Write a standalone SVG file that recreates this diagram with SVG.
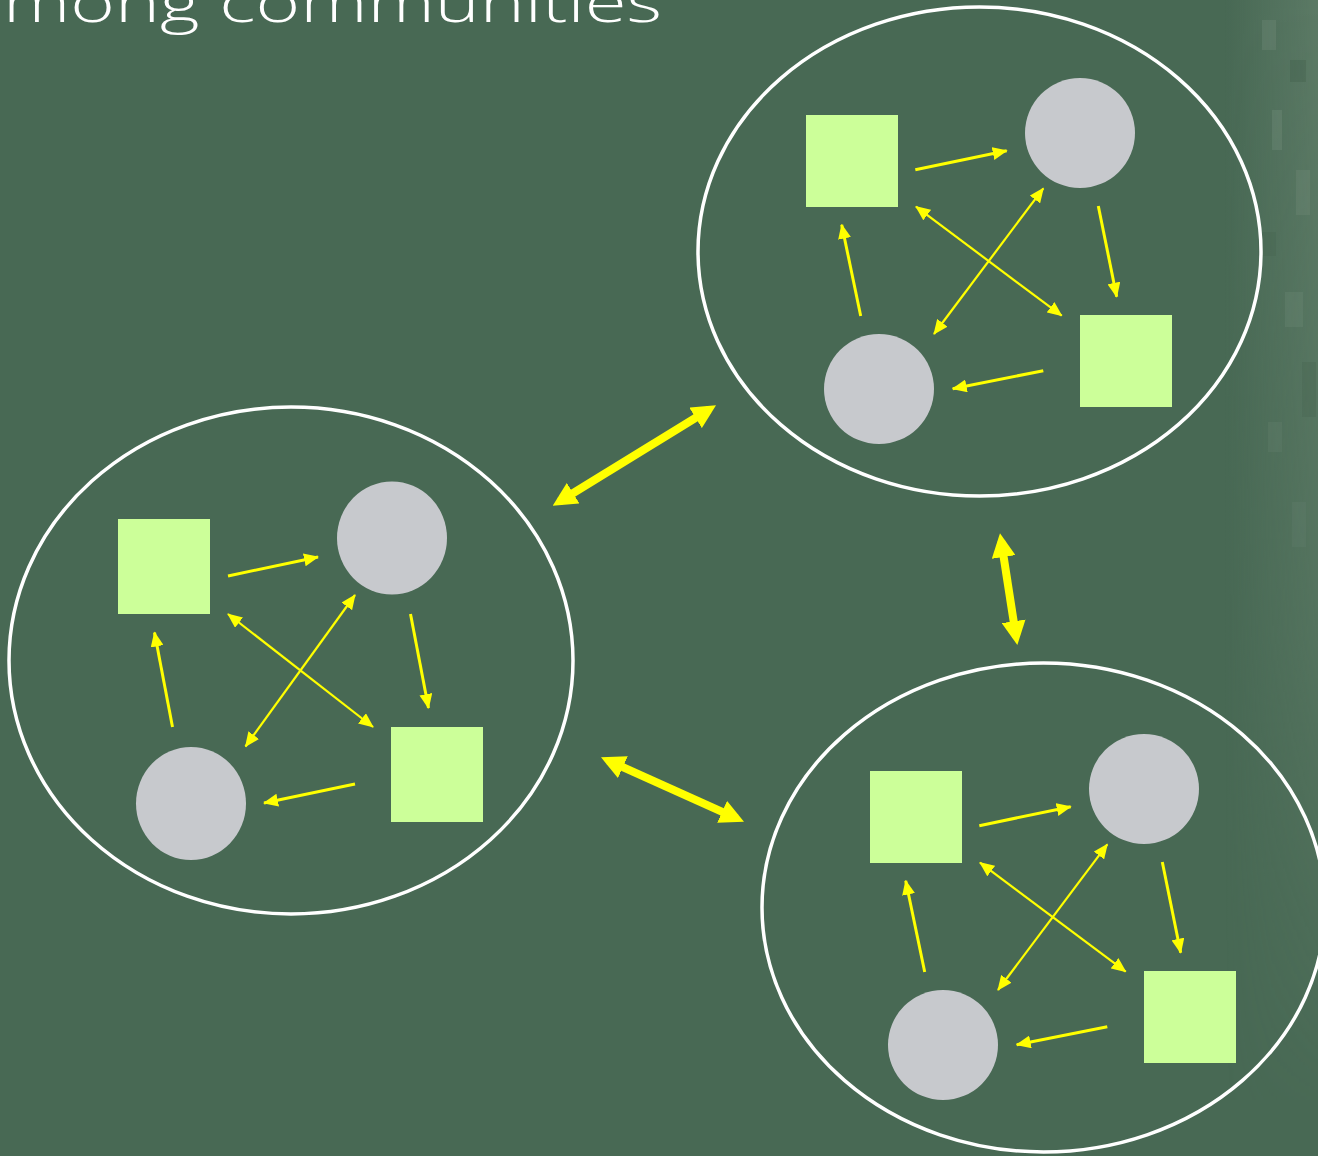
<svg xmlns="http://www.w3.org/2000/svg" width="1318" height="1156" viewBox="0 0 1318 1156">
<defs>
<style>
.bg{fill:#486954}
.comm{fill:none;stroke:#ffffff;stroke-width:3.5}
.sq{fill:#ccff99}
.ci{fill:#c7c9cd}
.a{stroke:#ffff00;stroke-width:3;fill:none}
.d{stroke:#ffff00;stroke-width:2.2;fill:none}
.big{stroke:#ffff00;stroke-width:8;fill:none}
.title{font-family:"Open Sans","Lato","Liberation Sans",sans-serif;font-weight:300;font-size:56px;fill:#ffffff}
</style>
<marker id="h" viewBox="0 0 15 13" markerUnits="userSpaceOnUse" markerWidth="15" markerHeight="13" refX="14" refY="6.5" orient="auto-start-reverse">
<path d="M0,0 L15,6.5 L0,13 z" fill="#ffff00"/>
</marker>
<marker id="H" viewBox="0 0 24 24" markerUnits="userSpaceOnUse" markerWidth="24" markerHeight="24" refX="16" refY="12" orient="auto-start-reverse">
<path d="M0,0 L24,12 L0,24 z" fill="#ffff00"/>
</marker>
<linearGradient id="tex" x1="0" y1="0" x2="1" y2="0">
<stop offset="0" stop-color="#6f8a78" stop-opacity="0"/>
<stop offset="0.5" stop-color="#6f8a78" stop-opacity="0.25"/>
<stop offset="1" stop-color="#7a947f" stop-opacity="0.4"/>
</linearGradient>
<linearGradient id="texv" x1="0" y1="0" x2="0" y2="1">
<stop offset="0" stop-color="#ffffff" stop-opacity="1"/>
<stop offset="0.55" stop-color="#ffffff" stop-opacity="0.6"/>
<stop offset="1" stop-color="#ffffff" stop-opacity="0"/>
</linearGradient>
<mask id="fade"><rect x="1200" y="0" width="118" height="1156" fill="url(#texv)"/></mask>
</defs>
<rect class="bg" x="0" y="0" width="1318" height="1156"/>
<g id="texture" mask="url(#fade)">
<rect x="1225" y="0" width="93" height="1100" fill="url(#tex)"/>
<rect x="1262" y="20" width="14" height="30" fill="#8aa090" opacity="0.2"/>
<rect x="1290" y="60" width="16" height="22" fill="#3d5a45" opacity="0.3"/>
<rect x="1272" y="110" width="10" height="40" fill="#9bb0a0" opacity="0.18"/>
<rect x="1296" y="170" width="14" height="45" fill="#8ca293" opacity="0.2"/>
<rect x="1258" y="232" width="18" height="24" fill="#3f5c47" opacity="0.25"/>
<rect x="1285" y="292" width="18" height="35" fill="#90a697" opacity="0.18"/>
<rect x="1302" y="362" width="14" height="55" fill="#3e5b46" opacity="0.25"/>
<rect x="1268" y="422" width="14" height="30" fill="#879d8d" opacity="0.18"/>
<rect x="1292" y="502" width="14" height="45" fill="#80978a" opacity="0.18"/>
</g>
<text class="title" x="3" y="22" textLength="659" lengthAdjust="spacingAndGlyphs">mong communities</text>

<g id="community-left">
<ellipse class="comm" cx="291" cy="660.5" rx="282" ry="253.5"/>
<g id="left-square-1"><rect class="sq" x="118" y="519" width="92" height="95"/></g>
<g id="left-circle-1"><ellipse class="ci" cx="392" cy="538" rx="55" ry="56.5"/></g>
<g id="left-square-2"><rect class="sq" x="391" y="727" width="92" height="95"/></g>
<g id="left-circle-2"><ellipse class="ci" cx="191" cy="803.5" rx="55" ry="56.5"/></g>
</g>

<g id="community-top">
<ellipse class="comm" cx="979.5" cy="251.5" rx="281.5" ry="244.5"/>
<g id="top-square-1"><rect class="sq" x="806" y="115" width="92" height="92"/></g>
<g id="top-circle-1"><circle class="ci" cx="1080" cy="133" r="55"/></g>
<g id="top-square-2"><rect class="sq" x="1080" y="315" width="92" height="92"/></g>
<g id="top-circle-2"><circle class="ci" cx="879" cy="389" r="55"/></g>
</g>

<g id="community-bottom">
<ellipse class="comm" cx="1043.5" cy="907.5" rx="281.5" ry="244.5"/>
<g id="bottom-square-1"><rect class="sq" x="870" y="771" width="92" height="92"/></g>
<g id="bottom-circle-1"><circle class="ci" cx="1144" cy="789" r="55"/></g>
<g id="bottom-square-2"><rect class="sq" x="1144" y="971" width="92" height="92"/></g>
<g id="bottom-circle-2"><circle class="ci" cx="943" cy="1045" r="55"/></g>
</g>

<g id="connectors">
<line class="a" x1="228" y1="576" x2="318" y2="557" marker-end="url(#h)"/>
<line class="a" x1="410.5" y1="614" x2="428.5" y2="708" marker-end="url(#h)"/>
<line class="a" x1="355" y1="784" x2="264" y2="803" marker-end="url(#h)"/>
<line class="a" x1="172.5" y1="727" x2="154.5" y2="632.5" marker-end="url(#h)"/>
<line class="d" x1="228" y1="614" x2="373" y2="727" marker-start="url(#h)" marker-end="url(#h)"/>
<line class="d" x1="355" y1="595" x2="245.5" y2="746.5" marker-start="url(#h)" marker-end="url(#h)"/>

<line class="a" x1="915.3" y1="169.7" x2="1006.7" y2="150.7" marker-end="url(#h)"/>
<line class="a" x1="1098.3" y1="206" x2="1116.7" y2="296.7" marker-end="url(#h)"/>
<line class="a" x1="1043.3" y1="370.7" x2="952.7" y2="388.7" marker-end="url(#h)"/>
<line class="a" x1="860.7" y1="316" x2="841.7" y2="224.7" marker-end="url(#h)"/>
<line class="d" x1="916" y1="206.7" x2="1061.7" y2="315.7" marker-start="url(#h)" marker-end="url(#h)"/>
<line class="d" x1="1043.3" y1="188.3" x2="934" y2="334" marker-start="url(#h)" marker-end="url(#h)"/>

<line class="a" x1="979.3" y1="825.7" x2="1070.7" y2="806.7" marker-end="url(#h)"/>
<line class="a" x1="1162.3" y1="862" x2="1180.7" y2="952.7" marker-end="url(#h)"/>
<line class="a" x1="1107.3" y1="1026.7" x2="1016.7" y2="1044.7" marker-end="url(#h)"/>
<line class="a" x1="924.7" y1="972" x2="905.7" y2="880.7" marker-end="url(#h)"/>
<line class="d" x1="980" y1="862.7" x2="1125.7" y2="971.7" marker-start="url(#h)" marker-end="url(#h)"/>
<line class="d" x1="1107.3" y1="844.3" x2="998" y2="990" marker-start="url(#h)" marker-end="url(#h)"/>

<line class="big" x1="559.5" y1="501.5" x2="709.2" y2="409.5" marker-start="url(#H)" marker-end="url(#H)"/>
<line class="big" x1="1001.2" y1="541.2" x2="1016.1" y2="637.1" marker-start="url(#H)" marker-end="url(#H)"/>
<line class="big" x1="608.3" y1="760.6" x2="736.7" y2="818.4" marker-start="url(#H)" marker-end="url(#H)"/>
</g>
</svg>
